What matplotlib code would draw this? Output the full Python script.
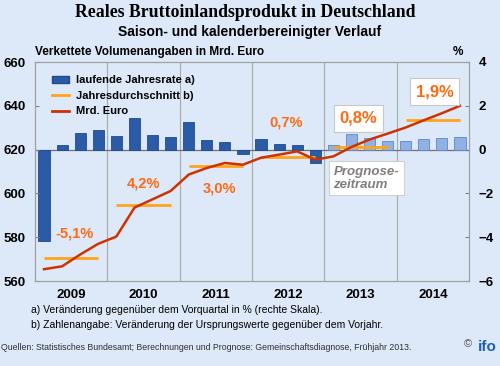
import numpy as np
import matplotlib.pyplot as plt
from matplotlib.patches import Patch
from matplotlib.lines import Line2D

# quarterly data 2009Q1 .. 2014Q4
years = [2009, 2010, 2011, 2012, 2013, 2014]
rate_qoq = [-4.16, 0.23, 0.78, 0.90,
            0.63, 1.45, 0.67, 0.58,
            1.24, 0.44, 0.34, -0.18,
            0.47, 0.24, 0.20, -0.61,
            0.21, 0.73, 0.55, 0.37,
            0.37, 0.49, 0.53, 0.58]
gdp_bn = [565.4, 566.7, 572.1, 577.0,
          580.3, 593.5, 597.3, 601.1,
          608.6, 611.6, 613.9, 613.1,
          616.3, 617.7, 619.2, 615.4,
          616.9, 621.2, 624.6, 627.3,
          630.1, 633.4, 636.6, 640.0]
year_avg = [570.4, 594.5, 612.5, 616.8, 621.4, 633.4]
year_growth = ['-5,1%', '4,2%', '3,0%', '0,7%', '0,8%', '1,9%']
n_forecast = 8  # last 8 quarters are forecast

bg = '#dde9f8'
dark_bar = '#2b5ba6'
light_bar = '#8fb1e3'
red = '#cc3300'
orange = '#ffa31a'
lbl = '#ff6a13'

plt.rcParams['font.family'] = ['Liberation Sans', 'DejaVu Sans']

fig = plt.figure(figsize=(5, 3.66), dpi=100, facecolor=bg)
ax = fig.add_axes([35 / 500, 1 - 281 / 366, 434 / 500, 219 / 366])
ax2 = ax.twinx()
# line axis on top of bar axis
ax.set_zorder(ax2.get_zorder() + 1)
ax.patch.set_visible(False)
ax2.patch.set_facecolor('white')

x = np.arange(len(rate_qoq))
colors = [dark_bar] * (len(x) - n_forecast) + [light_bar] * n_forecast
edges = ['#1f4a8c'] * (len(x) - n_forecast) + ['#5f86c8'] * n_forecast
ax2.bar(x, rate_qoq, width=0.62, color=colors, edgecolor=edges, linewidth=0.6, zorder=3)
ax2.axhline(0, color='#707070', lw=0.9, zorder=2)
ax2.set_ylim(-6, 4)
ax2.set_yticks([-6, -4, -2, 0, 2, 4])

for i in range(1, len(years)):
    ax2.axvline(i * 4 - 0.5, color='#a8a8a8', lw=0.8, zorder=1)

ax.plot(x, gdp_bn, color=red, lw=1.8, zorder=5)
for i, v in enumerate(year_avg):
    ax.hlines(v, i * 4, i * 4 + 3, color=orange, lw=2, zorder=4)

ax.set_ylim(560, 660)
ax.set_yticks([560, 580, 600, 620, 640, 660])
ax.set_xlim(-0.5, len(x) - 0.5)
ax.set_xticks([i * 4 + 1.5 for i in range(len(years))])
ax.set_xticklabels([str(y) for y in years])

for a in (ax, ax2):
    for s in a.spines.values():
        s.set_color('#a0a0a0')
        s.set_linewidth(0.8)
ax.tick_params(axis='x', length=0, pad=6, labelsize=9.5)
ax.tick_params(axis='y', direction='in', length=3, color='#808080', labelsize=9.5, pad=7)
ax2.tick_params(axis='y', direction='in', length=3, color='#808080', labelsize=9.5, pad=7)
for t in ax.get_xticklabels() + ax.get_yticklabels() + ax2.get_yticklabels():
    t.set_fontweight('bold')

# growth labels
lbl_pos = [(1.7, 581.7), (5.5, 604.6), (9.7, 602.3), (13.4, 632.6), (17.4, 634.3), (21.6, 646.4)]
for i, (txt, (px, py)) in enumerate(zip(year_growth, lbl_pos)):
    if i >= 4:
        ax.text(px, py, txt, color=lbl, fontsize=12, fontweight='bold', ha='center', va='center',
                zorder=6, bbox=dict(boxstyle='square,pad=0.35', fc='white', ec='#c8c8c8', lw=0.8))
    else:
        ax.text(px, py, txt, color=lbl, fontsize=10.5, fontweight='bold', ha='center', va='center', zorder=6)

ax.text(16.0, 606.9, 'Prognose-\nzeitraum', color='#7f7f7f', fontsize=9.5, fontweight='bold',
        style='italic', ha='left', va='center', linespacing=1.1, zorder=6,
        bbox=dict(boxstyle='square,pad=0.35', fc='white', ec='#d0d0d0', lw=0.8))

handles = [Patch(facecolor=dark_bar, edgecolor='#1f4a8c'),
           Line2D([], [], color=orange, lw=2),
           Line2D([], [], color=red, lw=2)]
leg = ax.legend(handles, ['laufende Jahresrate a)', 'Jahresdurchschnitt b)', 'Mrd. Euro'],
                loc='upper left', bbox_to_anchor=(0.015, 0.985), frameon=False,
                prop={'weight': 'bold', 'size': 8}, handlelength=1.6, labelspacing=0.5,
                handletextpad=0.6)
leg.set_zorder(7)

fig.text(0.49, 0.965, 'Reales Bruttoinlandsprodukt in Deutschland', ha='center', va='center',
         fontsize=12.8, fontweight='bold', family='Liberation Serif')
fig.text(0.5, 0.912, 'Saison- und kalenderbereinigter Verlauf', ha='center', va='center',
         fontsize=10, fontweight='bold')
fig.text(35 / 500, 0.857, 'Verkettete Volumenangaben in Mrd. Euro', ha='left', va='center',
         fontsize=8.5, fontweight='bold')
fig.text(0.915, 0.857, '%', ha='center', va='center', fontsize=8.5, fontweight='bold')

fig.text(31 / 500, 1 - 310 / 366, 'a) Veränderung gegenüber dem Vorquartal in % (rechte Skala).',
         ha='left', va='center', fontsize=7.5)
fig.text(31 / 500, 1 - 325 / 366, 'b) Zahlenangabe: Veränderung der Ursprungswerte gegenüber dem Vorjahr.',
         ha='left', va='center', fontsize=7.5)
fig.text(0.002, 1 - 347 / 366, 'Quellen: Statistisches Bundesamt; Berechnungen und Prognose: Gemeinschaftsdiagnose, Frühjahr 2013.',
         ha='left', va='center', fontsize=6.3, color='#303030')
fig.text(0.935, 1 - 344 / 366, '©', ha='center', va='center', fontsize=8, color='#555555')
fig.text(0.975, 1 - 347 / 366, 'ifo', ha='center', va='center', fontsize=11, fontweight='bold',
         color='#1f5fae')

fig.savefig('out.png', dpi=100, facecolor=bg)
